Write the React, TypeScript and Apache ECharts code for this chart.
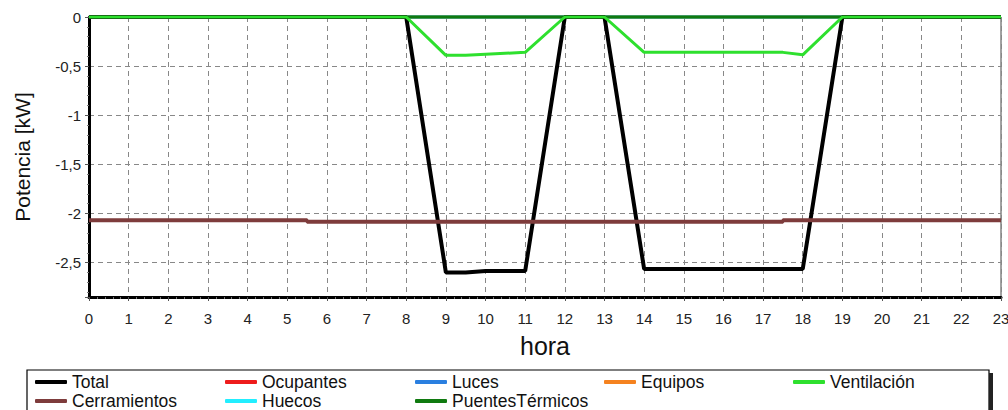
import React, { useEffect, useRef } from "react";
import * as echarts from "echarts";

const seriesNames = ["Total", "Ocupantes", "Luces", "Equipos", "Ventilación", "Cerramientos", "Huecos", "PuentesTérmicos"];
const seriesColors = ["#000000", "#ee1c1c", "#2a7fe0", "#f5821f", "#2ee02e", "#7e3c3c", "#22eeff", "#107a10"];

const totalHours = [0, 8, 9, 9.5, 10, 11, 12, 13, 14, 18, 19, 23];
const totalValues = [0, 0, -2.6, -2.6, -2.585, -2.585, 0, 0, -2.565, -2.565, 0, 0];

const ventHours = [0, 8, 9, 9.5, 10, 11, 12, 13, 14, 17.5, 18, 19, 23];
const ventValues = [0, 0, -0.39, -0.39, -0.38, -0.36, 0, 0, -0.36, -0.36, -0.385, 0, 0];

const cerrHours = [0, 5.5, 5.5, 17.5, 17.5, 23];
const cerrValues = [-2.07, -2.07, -2.085, -2.085, -2.07, -2.07];

const zeroHours = [0, 23];
const zeroValues = [0, 0];

const yTicks = [0, -0.5, -1, -1.5, -2, -2.5];

const pairs = (xs: number[], ys: number[]) => xs.map((x, i) => [x, ys[i]]);

export default function App() {
  const ref = useRef<HTMLDivElement>(null);
  useEffect(() => {
    if (!ref.current) return;
    const chart = echarts.init(ref.current, undefined, { renderer: "svg" });
    const font = "Liberation Sans, Arial, sans-serif";

    const dataFor = (name: string) => {
      if (name === "Total") return pairs(totalHours, totalValues);
      if (name === "Ventilación") return pairs(ventHours, ventValues);
      if (name === "Cerramientos") return pairs(cerrHours, cerrValues);
      return pairs(zeroHours, zeroValues);
    };
    const widthFor = (name: string) => (name === "Total" ? 4 : name === "Cerramientos" ? 4 : 3);
    const zFor = (name: string) => (name === "Ventilación" ? 6 : name === "Total" ? 4 : name === "Cerramientos" ? 5 : 2);

    const legendLefts = [35, 225, 415, 604, 793];
    const legendTops = [373, 392];

    const legends = seriesNames.map((name, i) => ({
      show: true,
      data: [name],
      left: legendLefts[i % 5],
      top: legendTops[Math.floor(i / 5)],
      padding: 0,
      itemWidth: 32,
      itemHeight: 4,
      icon: "roundRect",
      selectedMode: false,
      textStyle: { fontFamily: font, fontSize: 17.5, color: "#111" },
    }));

    chart.setOption({
      animation: false,
      backgroundColor: "#ffffff",
      grid: {
        left: 89,
        right: 7,
        top: 17,
        bottom: 113,
        show: true,
        borderColor: "#444",
        borderWidth: 1,
        outerBoundsMode: "none",
        containLabel: false,
      },
      legend: legends,
      xAxis: {
        type: "value",
        min: 0,
        max: 23,
        interval: 1,
        name: "hora",
        nameLocation: "middle",
        nameGap: 36,
        nameTextStyle: { fontFamily: font, fontSize: 25, color: "#111" },
        axisLine: { show: true, onZero: false, lineStyle: { color: "#000", width: 3 } },
        axisTick: { show: true, length: 4, lineStyle: { color: "#555" } },
        minorTick: { show: true, splitNumber: 5, length: 2, lineStyle: { color: "#777" } },
        axisLabel: { fontFamily: font, fontSize: 15, color: "#222", margin: 14 },
        splitLine: { show: true, lineStyle: { color: "#888", type: [5, 4], width: 1 } },
      },
      yAxis: {
        type: "value",
        min: -2.85,
        max: 0,
        splitNumber: 6,
        name: "Potencia [kW]",
        nameLocation: "middle",
        nameGap: 56,
        nameRotate: 90,
        nameTextStyle: { fontFamily: font, fontSize: 21, color: "#111" },
        axisLine: { show: true, onZero: false, lineStyle: { color: "#000", width: 3 } },
        axisTick: { show: true, length: 4, lineStyle: { color: "#555" } },
        minorTick: { show: true, splitNumber: 5, length: 2, lineStyle: { color: "#777" } },
        axisLabel: {
          fontFamily: font,
          fontSize: 15,
          color: "#222",
          margin: 8,
          formatter: (v: number) => {
            const match = yTicks.find((t) => Math.abs(t - v) < 1e-6);
            if (match === undefined) return "";
            return String(match).replace(".", ",");
          },
        },
        splitLine: { show: true, lineStyle: { color: "#888", type: [5, 4], width: 1 } },
      },
      graphic: [
        {
          type: "rect",
          shape: { x: 27, y: 370, width: 962, height: 50 },
          style: { fill: "none", stroke: "#000", lineWidth: 1.2 },
          z: 0,
        },
        {
          type: "rect",
          shape: { x: 989, y: 373, width: 4, height: 40 },
          style: { fill: "#222" },
          z: 0,
        },
      ],
      series: seriesNames.map((name, i) => ({
        name,
        type: "line",
        data: dataFor(name),
        showSymbol: false,
        symbol: "none",
        clip: false,
        z: zFor(name),
        color: seriesColors[i],
        lineStyle: { color: seriesColors[i], width: widthFor(name) },
      })),
    });
    return () => chart.dispose();
  }, []);
  return (
    <div
      ref={ref}
      style={{ position: "fixed", left: 0, top: 0, width: 1008, height: 410, background: "#fff" }}
    />
  );
}
